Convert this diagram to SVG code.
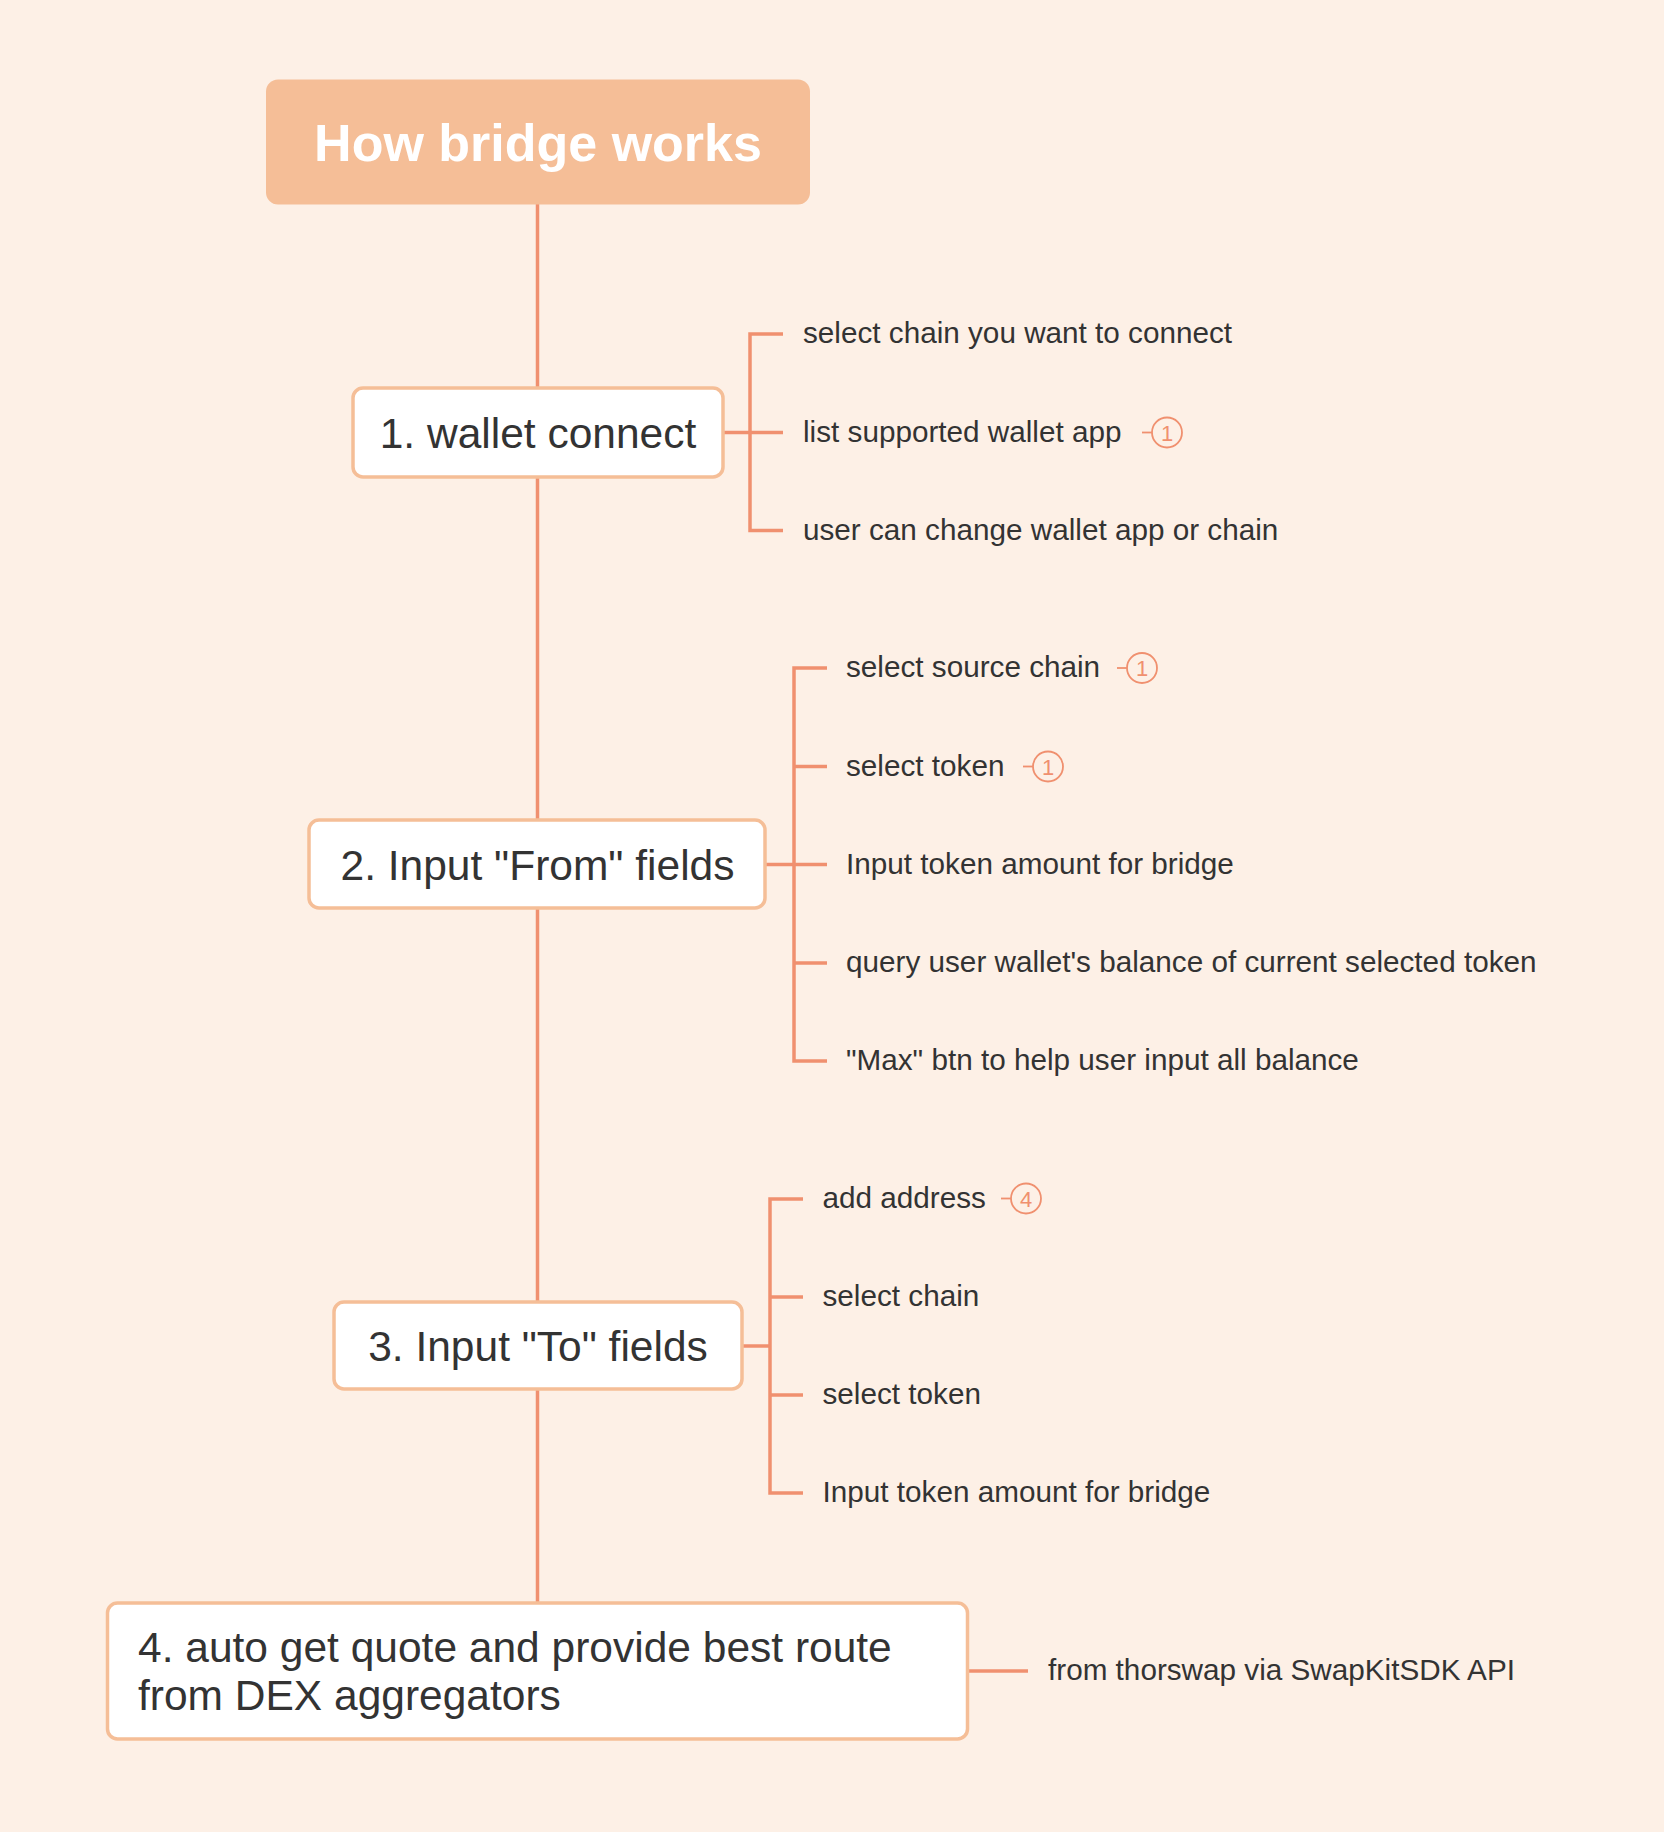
<svg xmlns="http://www.w3.org/2000/svg" width="1664" height="1832" viewBox="0 0 1664 1832">
<style>
.bg{fill:#FDF0E6}
.root{fill:#F5BE97}
.rootText{fill:#FFFFFF;font-family:"Liberation Sans",Arial,sans-serif;font-weight:bold;font-size:52px;text-anchor:middle}
.node{fill:#FFFFFF;stroke:#F5BE97;stroke-width:3.5}
.nodeText{fill:#333333;font-family:"Liberation Sans",Arial,sans-serif;font-size:42.5px}
.mid{text-anchor:middle}
.leaf{fill:#333333;font-family:"Liberation Sans",Arial,sans-serif;font-size:29.7px}
.conn{fill:none;stroke:#F0906F;stroke-width:3.5}
.tag{fill:none;stroke:#F0906F;stroke-width:1.8}
.tagText{fill:#F0906F;font-family:"Liberation Sans",Arial,sans-serif;font-size:22px;text-anchor:middle}
</style>
<rect class="bg" x="0" y="0" width="1664" height="1832"/>

<g id="connectors">
  <line class="conn" x1="537.5" y1="204" x2="537.5" y2="389"/>
  <line class="conn" x1="537.5" y1="476" x2="537.5" y2="821"/>
  <line class="conn" x1="537.5" y1="907" x2="537.5" y2="1303"/>
  <line class="conn" x1="537.5" y1="1388" x2="537.5" y2="1604"/>
  <line class="conn" x1="723" y1="432.5" x2="750" y2="432.5"/>
  <path class="conn" d="M783,334 H750 V530.5 H783 M750,432.5 H783"/>
  <line class="conn" x1="765" y1="864.5" x2="794" y2="864.5"/>
  <path class="conn" d="M827,668 H794 V1061 H827 M794,766.5 H827 M794,864.5 H827 M794,963 H827"/>
  <line class="conn" x1="742" y1="1346" x2="770" y2="1346"/>
  <path class="conn" d="M803,1199 H770 V1493 H803 M770,1297 H803 M770,1395 H803"/>
  <line class="conn" x1="967.5" y1="1671" x2="1028" y2="1671"/>
</g>

<g id="root">
  <rect class="root" x="266" y="79.5" width="544" height="125" rx="12"/>
  <text class="rootText" x="538" y="160.5">How bridge works</text>
</g>

<g id="node1">
  <rect class="node" x="353" y="388" width="370" height="89" rx="10"/>
  <text class="nodeText mid" x="538" y="447.5">1. wallet connect</text>
</g>
<g id="node1-children">
  <text class="leaf" x="803" y="343">select chain you want to connect</text>
  <text class="leaf" x="803" y="441.5">list supported wallet app</text>
  <text class="leaf" x="803" y="539.5">user can change wallet app or chain</text>
  <g id="tag1a">
    <line class="tag" x1="1142" y1="432.5" x2="1152" y2="432.5"/>
    <circle class="tag" cx="1167" cy="432.5" r="15"/>
    <text class="tagText" x="1167" y="440.5">1</text>
  </g>
</g>

<g id="node2">
  <rect class="node" x="309" y="820" width="456" height="88" rx="10"/>
  <text class="nodeText mid" x="537.5" y="879.5">2. Input "From" fields</text>
</g>
<g id="node2-children">
  <text class="leaf" x="846" y="677">select source chain</text>
  <text class="leaf" x="846" y="775.5">select token</text>
  <text class="leaf" x="846" y="873.5">Input token amount for bridge</text>
  <text class="leaf" x="846" y="972">query user wallet's balance of current selected token</text>
  <text class="leaf" x="846" y="1070">"Max" btn to help user input all balance</text>
  <g id="tag2a">
    <line class="tag" x1="1117" y1="668" x2="1127" y2="668"/>
    <circle class="tag" cx="1142" cy="668" r="15"/>
    <text class="tagText" x="1142" y="676">1</text>
  </g>
  <g id="tag2b">
    <line class="tag" x1="1023" y1="766.5" x2="1033" y2="766.5"/>
    <circle class="tag" cx="1048" cy="766.5" r="15"/>
    <text class="tagText" x="1048" y="774.5">1</text>
  </g>
</g>

<g id="node3">
  <rect class="node" x="334" y="1302" width="408" height="87" rx="10"/>
  <text class="nodeText mid" x="538" y="1360.5">3. Input "To" fields</text>
</g>
<g id="node3-children">
  <text class="leaf" x="822.5" y="1208">add address</text>
  <text class="leaf" x="822.5" y="1306">select chain</text>
  <text class="leaf" x="822.5" y="1404">select token</text>
  <text class="leaf" x="822.5" y="1502">Input token amount for bridge</text>
  <g id="tag3a">
    <line class="tag" x1="1001" y1="1198.5" x2="1011" y2="1198.5"/>
    <circle class="tag" cx="1026" cy="1198.5" r="15"/>
    <text class="tagText" x="1026" y="1206.5">4</text>
  </g>
</g>

<g id="node4">
  <rect class="node" x="107.5" y="1603" width="860" height="136" rx="10"/>
  <text class="nodeText" x="138" y="1661.5">4. auto get quote and provide best route</text>
  <text class="nodeText" x="138" y="1709.5">from DEX aggregators</text>
</g>
<g id="node4-children">
  <text class="leaf" x="1048" y="1680">from thorswap via SwapKitSDK API</text>
</g>
</svg>
